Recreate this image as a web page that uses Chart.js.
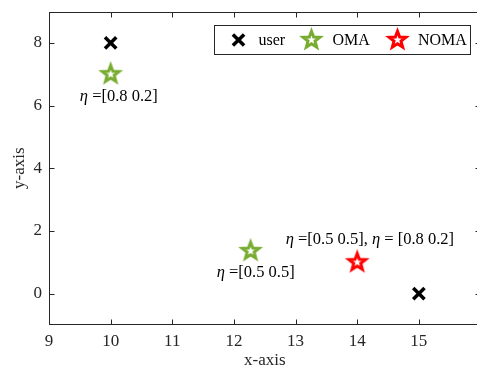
<!DOCTYPE html>
<html>
<head>
<meta charset="utf-8">
<script src="https://cdn.jsdelivr.net/npm/chart.js@4/dist/chart.umd.min.js"></script>
<style>
  html, body { margin: 0; padding: 0; background: #fff; overflow: hidden; }
  #wrap { width: 492px; height: 371px; position: relative; }
</style>
</head>
<body>
<div id="wrap"><canvas id="c"></canvas></div>
<script>
// Node positions
const userX = [10, 15];
const userY = [8, 0];
const omaX = [10, 12.27];
const omaY = [7, 1.36];
const nomaX = [14];
const nomaY = [1];

// Axis ticks
const xTicks = [9, 10, 11, 12, 13, 14, 15];
const yTicks = [0, 2, 4, 6, 8];

// Power-allocation notes placed in data coordinates
const noteText = ['η =[0.8 0.2]', 'η =[0.5 0.5]', 'η =[0.5 0.5], η = [0.8 0.2]'];
const noteX = [9.5, 11.72, 12.84];
const noteY = [6.27, 0.66, 1.73];

const legendNames = ['user', 'OMA', 'NOMA'];

const AXIS = '#262626';
const SERIF = '"Liberation Serif", "Times New Roman", serif';
const GREEN = '#77AC30';
const RED = '#FF0000';

function pts(xs, ys) { return xs.map((x, i) => ({ x: x, y: ys[i] })); }

function starPath(ctx, cx, cy, R, r) {
  ctx.beginPath();
  for (let i = 0; i < 10; i++) {
    const rad = i % 2 === 0 ? R : r;
    const a = -Math.PI / 2 + i * Math.PI / 5;
    const px = cx + rad * Math.cos(a), py = cy + rad * Math.sin(a);
    if (i === 0) ctx.moveTo(px, py); else ctx.lineTo(px, py);
  }
  ctx.closePath();
}

function drawStar(ctx, cx, cy, color) {
  ctx.save();
  starPath(ctx, cx, cy, 8.8, 3.7);
  ctx.fillStyle = '#fff';
  ctx.fill();
  ctx.lineWidth = 3;
  ctx.lineJoin = 'miter';
  ctx.strokeStyle = color;
  ctx.stroke();
  ctx.restore();
}

function makeStar(color) {
  const cv = document.createElement('canvas');
  cv.width = 26; cv.height = 26;
  drawStar(cv.getContext('2d'), 13, 13, color);
  return cv;
}

function drawCross(ctx, cx, cy) {
  ctx.save();
  ctx.strokeStyle = '#000';
  ctx.lineWidth = 3.5;
  const h = 5.6;
  ctx.beginPath();
  ctx.moveTo(cx - h, cy - h); ctx.lineTo(cx + h, cy + h);
  ctx.moveTo(cx - h, cy + h); ctx.lineTo(cx + h, cy - h);
  ctx.stroke();
  ctx.restore();
}

// Text with the Greek eta set in italic
function drawNote(ctx, text, x, y, size) {
  const parts = text.split('η');
  let cx = x;
  ctx.textBaseline = 'middle';
  ctx.textAlign = 'left';
  parts.forEach((p, i) => {
    if (i > 0) {
      ctx.font = 'italic ' + size + 'px ' + SERIF;
      ctx.fillText('η', cx, y);
      cx += ctx.measureText('η').width;
    }
    ctx.font = size + 'px ' + SERIF;
    ctx.fillText(p, cx, y);
    cx += ctx.measureText(p).width;
  });
}

const framePlugin = {
  id: 'frame',
  beforeDatasetsDraw(chart) {
    const { ctx, chartArea: a, scales: { x, y } } = chart;
    const L = Math.round(a.left) + 0.5, R = Math.round(a.right) - 0.5;
    const T = Math.round(a.top) + 0.5, B = Math.round(a.bottom) - 0.5;
    ctx.save();
    ctx.strokeStyle = AXIS;
    ctx.lineWidth = 1;
    ctx.strokeRect(L, T, R - L, B - T);
    const tl = 5;
    ctx.beginPath();
    xTicks.concat([16]).forEach(v => {
      const px = Math.round(x.getPixelForValue(v)) + 0.5;
      ctx.moveTo(px, B); ctx.lineTo(px, B - tl);
      ctx.moveTo(px, T); ctx.lineTo(px, T + tl);
    });
    yTicks.forEach(v => {
      const py = Math.round(y.getPixelForValue(v)) + 0.5;
      ctx.moveTo(L, py); ctx.lineTo(L + tl, py);
      ctx.moveTo(R, py); ctx.lineTo(R - tl, py);
    });
    ctx.stroke();
    ctx.restore();
  },
  afterDraw(chart) {
    const { ctx, chartArea: a, scales: { x, y } } = chart;
    ctx.save();
    ctx.fillStyle = '#000';
    noteText.forEach((t, i) => {
      drawNote(ctx, t, x.getPixelForValue(noteX[i]), y.getPixelForValue(noteY[i]), 16.5);
    });

    // Legend box in the upper right corner of the axes
    const bx = Math.round(a.right - 267) + 0.5, by = Math.round(a.top + 13) + 0.5, bw = 256, bh = 29;
    ctx.fillStyle = '#fff';
    ctx.fillRect(bx, by, bw, bh);
    ctx.strokeStyle = AXIS;
    ctx.lineWidth = 1;
    ctx.strokeRect(bx, by, bw, bh);
    const cy = by + bh / 2;
    const mk = [bx + 24, bx + 97, bx + 183];
    drawCross(ctx, mk[0], cy);
    drawStar(ctx, mk[1], cy, GREEN);
    drawStar(ctx, mk[2], cy, RED);
    ctx.fillStyle = '#000';
    ctx.font = '16px ' + SERIF;
    ctx.textBaseline = 'middle';
    ctx.textAlign = 'left';
    const tx = [bx + 44, bx + 118, bx + 203.5];
    legendNames.forEach((n, i) => ctx.fillText(n, tx[i], cy + 0.5));
    ctx.restore();
  }
};

new Chart(document.getElementById('c'), {
  type: 'scatter',
  data: {
    datasets: [
      {
        label: legendNames[0],
        data: pts(userX, userY),
        pointStyle: 'crossRot',
        pointRadius: 8,
        borderWidth: 3.5,
        borderColor: '#000',
        backgroundColor: '#000'
      },
      {
        label: legendNames[1],
        data: pts(omaX, omaY),
        pointStyle: makeStar(GREEN),
        pointRadius: 10
      },
      {
        label: legendNames[2],
        data: pts(nomaX, nomaY),
        pointStyle: makeStar(RED),
        pointRadius: 10
      }
    ]
  },
  options: {
    responsive: true,
    maintainAspectRatio: false,
    animation: false,
    events: [],
    layout: { padding: { left: 0, top: 10, right: 1, bottom: 0 } },
    plugins: { legend: { display: false }, tooltip: { enabled: false } },
    scales: {
      x: {
        type: 'linear',
        min: 9,
        max: 16,
        afterBuildTicks: s => { s.ticks = xTicks.map(v => ({ value: v })); },
        afterFit: s => { s.height = 46; s.paddingLeft = 0; s.paddingRight = 0; },
        grid: { display: false, drawTicks: false },
        border: { display: false },
        ticks: { color: AXIS, padding: 6, font: { family: SERIF, size: 17 }, maxRotation: 0 },
        title: { display: true, text: 'x-axis', color: AXIS, font: { family: SERIF, size: 17 }, padding: { top: 0, bottom: 0 } }
      },
      y: {
        type: 'linear',
        min: -1,
        max: 9,
        afterBuildTicks: s => { s.ticks = yTicks.map(v => ({ value: v })); },
        afterFit: s => { s.width = 49; s.paddingTop = 0; s.paddingBottom = 0; },
        grid: { display: false, drawTicks: false },
        border: { display: false },
        ticks: { color: AXIS, padding: 7, font: { family: SERIF, size: 17 } },
        title: { display: true, text: 'y-axis', color: AXIS, font: { family: SERIF, size: 17 }, padding: { top: 9, bottom: 0 } }
      }
    }
  },
  plugins: [framePlugin]
});
</script>
</body>
</html>
